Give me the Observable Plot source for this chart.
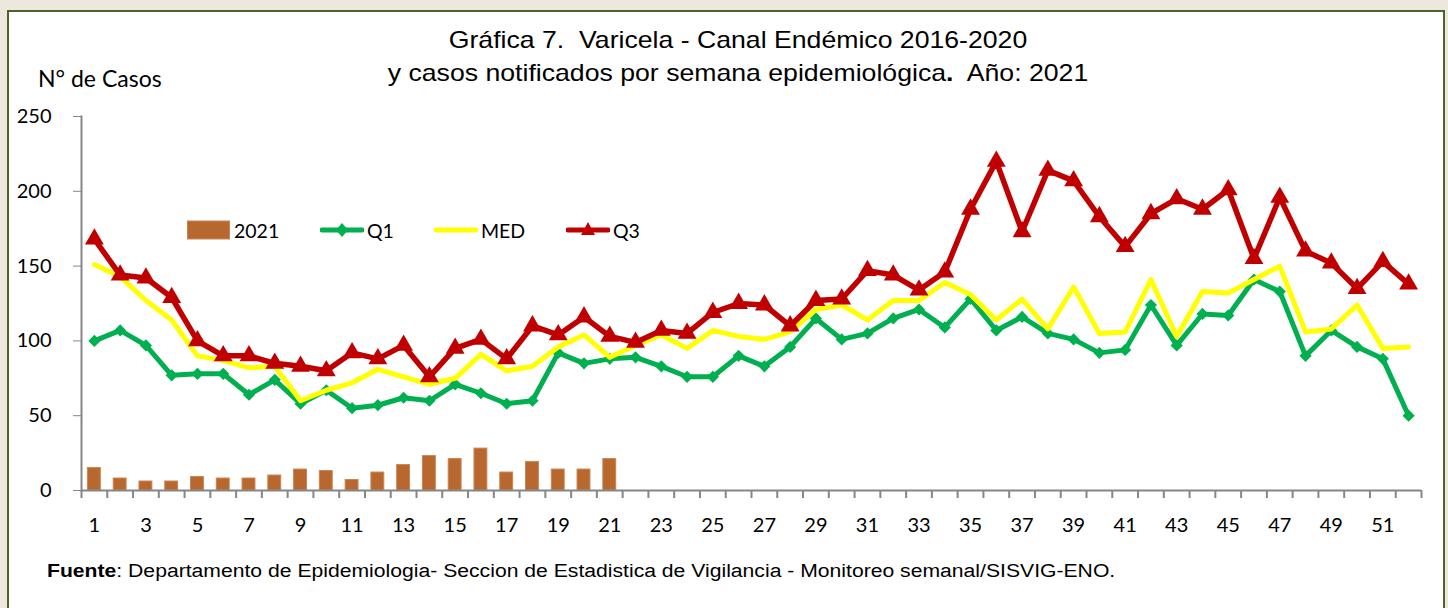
<!DOCTYPE html>
<html><head><meta charset="utf-8">
<script src="https://cdn.jsdelivr.net/npm/d3@7"></script>
<script src="https://cdn.jsdelivr.net/npm/@observablehq/plot@0.6"></script>
<style>
html,body{margin:0;padding:0}
body{background:#ece8de;width:1448px;height:608px;overflow:hidden;position:relative;font-family:"Liberation Sans",Arial,sans-serif}
#box{position:absolute;left:7px;top:10px;width:1438px;height:640px;border:2.5px solid #4f6228;background:#fff;box-sizing:border-box}
#chart{position:absolute;left:0;top:0}
.t{position:absolute;left:738px;transform:translateX(-50%) scaleX(1.11);white-space:pre;font-size:24px;color:#000;line-height:1}
#ylab{position:absolute;left:38px;top:64px;font-family:Lato,sans-serif;font-size:23px;white-space:pre}
#legend{position:absolute;top:217px;left:0;font-family:Lato,sans-serif;font-size:19.5px}
.li{position:absolute;top:0;height:26px;display:flex;align-items:center;white-space:pre}
#foot{position:absolute;left:47px;top:561px;font-size:18px;white-space:pre;transform:scaleX(1.175);transform-origin:0 0}
</style></head>
<body>
<div id="box"></div>
<div id="chart"></div>
<div class="t" style="top:28px">Gráfica 7.  Varicela - Canal Endémico 2016-2020</div>
<div class="t" style="top:61px">y casos notificados por semana epidemiológica<b>.</b>  Año: 2021</div>
<div id="ylab">N° de Casos</div>
<div id="legend"></div>
<div id="foot"><b>Fuente</b>: Departamento de Epidemiologia- Seccion de Estadistica de Vigilancia - Monitoreo semanal/SISVIG-ENO.</div>
<script>
// ---- data ----
const weeks = d3.range(1, 53);
const cases2021 = [15, 8, 6, 6, 9, 8, 8, 10, 14, 13, 7, 12, 17, 23, 21, 28, 12, 19, 14, 14, 21];
const q1 = [100, 107, 97, 77, 78, 78, 64, 74, 58, 67, 55, 57, 62, 60, 71, 65, 58, 60, 92, 85,
            88, 89, 83, 76, 76, 90, 83, 96, 115, 101, 105, 115, 121, 109, 128, 107, 116, 105, 101, 92,
            94, 124, 97, 118, 117, 141, 133, 90, 107, 96, 88, 50];
const med = [151, 143, 127, 114, 90, 87, 82, 83, 60, 67, 72, 81, 76, 71, 75, 91, 80, 83, 96, 104,
             89, 97, 104, 95, 107, 103, 101, 106, 121, 124, 114, 127, 127, 139, 131, 114, 128, 108, 136, 105,
             106, 141, 103, 133, 132, 141, 150, 106, 108, 124, 95, 96];
const q3 = [168, 144, 142, 129, 100, 90, 90, 85, 83, 80, 92, 88, 97, 76, 95, 101, 88, 110, 104, 116,
            103, 99, 107, 105, 119, 125, 124, 110, 127, 128, 147, 144, 134, 146, 188, 220, 173, 214, 207, 183,
            163, 185, 195, 188, 201, 155, 196, 160, 152, 135, 153, 138];
const yTicks = [0, 50, 100, 150, 200, 250];
const xLabels = weeks.filter(w => w % 2 === 1);
const seriesNames = ["2021", "Q1", "MED", "Q3"];

// ---- table built from arrays ----
const bars = cases2021.map((v, i) => ({week: weeks[i], value: v}));
const toRows = arr => arr.map((v, i) => ({week: weeks[i], value: v}));
const rowsQ1 = toRows(q1), rowsMed = toRows(med), rowsQ3 = toRows(q3);

const W = 1448, H = 560, ML = 81, MR = 27, MT = 116, MB = 70;
const half = (W - ML - MR) / weeks.length / 2;
const C = {bar: "#b8682f", q1: "#00b050", med: "#ffff00", q3: "#c00000", axis: "#868686"};

const chart = Plot.plot({
  width: W, height: H,
  marginLeft: ML, marginRight: MR, marginTop: MT, marginBottom: MB,
  x: {type: "band", domain: weeks, paddingInner: 0.5, paddingOuter: 0.25, label: null},
  y: {domain: [0, 250], label: null},
  style: {fontFamily: "Lato, sans-serif", fontSize: "20px", color: "#000", background: "transparent", overflow: "visible"},
  marks: [
    Plot.barY(bars, {x: "week", y: "value", fill: C.bar, stroke: "#c98550", strokeWidth: 1}),
    Plot.ruleY([0], {stroke: C.axis, strokeWidth: 2}),
    Plot.frame({anchor: "left", stroke: C.axis, strokeWidth: 2}),
    Plot.axisY({ticks: yTicks, tickSize: 8, tickPadding: 22, stroke: C.axis, fill: "#000", label: null, fontSize: 20}),
    Plot.axisX({ticks: weeks, tickSize: 8, tickFormat: () => "", dx: -half, stroke: C.axis, strokeWidth: 2, label: null}),
    Plot.axisX({ticks: [weeks[weeks.length - 1]], tickSize: 8, tickFormat: () => "", dx: half, stroke: C.axis, strokeWidth: 2, label: null}),
    Plot.axisX({ticks: xLabels, tickSize: 0, tickPadding: 27, fill: "#000", label: null, fontSize: 20}),
    Plot.line(rowsQ1, {x: "week", y: "value", stroke: C.q1, strokeWidth: 5}),
    Plot.dot(rowsQ1, {x: "week", y: "value", symbol: "diamond2", r: 5.5, fill: C.q1}),
    Plot.line(rowsMed, {x: "week", y: "value", stroke: C.med, strokeWidth: 5}),
    Plot.line(rowsQ3, {x: "week", y: "value", stroke: C.q3, strokeWidth: 5.5}),
    Plot.dot(rowsQ3, {x: "week", y: "value", symbol: "triangle", r: 7, fill: C.q3})
  ]
});
document.getElementById("chart").appendChild(chart);

// ---- legend ----
const lg = document.getElementById("legend");
const items = [
  {name: seriesNames[0], left: 187, svg: `<svg width="44" height="20"><rect x="0.5" y="1" width="42" height="18" fill="${C.bar}" stroke="#c98550"/></svg>`},
  {name: seriesNames[1], left: 320, svg: `<svg width="44" height="20"><line x1="2" y1="10" x2="42" y2="10" stroke="${C.q1}" stroke-width="5" stroke-linecap="round"/><path d="M22,3 L28,10 L22,17 L16,10Z" fill="${C.q1}"/></svg>`},
  {name: seriesNames[2], left: 434, svg: `<svg width="44" height="20"><line x1="2" y1="10" x2="42" y2="10" stroke="${C.med}" stroke-width="5" stroke-linecap="round"/></svg>`},
  {name: seriesNames[3], left: 566, svg: `<svg width="44" height="20"><line x1="2" y1="10" x2="42" y2="10" stroke="${C.q3}" stroke-width="5" stroke-linecap="round"/><path d="M22,2 L29,15 L15,15Z" fill="${C.q3}"/></svg>`}
];
for (const it of items) {
  const d = document.createElement("div");
  d.className = "li";
  d.style.left = it.left + "px";
  d.innerHTML = it.svg + `<span style="margin-left:3px">${it.name}</span>`;
  lg.appendChild(d);
}
</script>
</body></html>
